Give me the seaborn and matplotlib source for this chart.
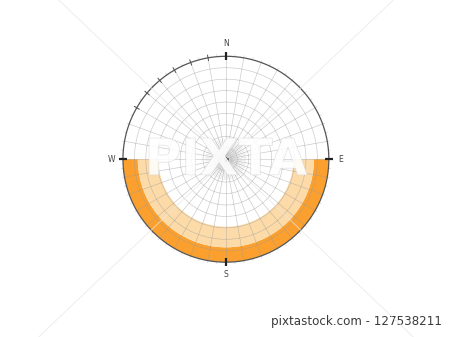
import numpy as np
import matplotlib
matplotlib.use("Agg")
import matplotlib.pyplot as plt
import matplotlib.patheffects as pe
import seaborn as sns

# ---- data ----
compass_labels = ["N", "E", "S", "W"]
compass_az = [0, 90, 180, 270]
shade_az_start = 90          # degrees (E)
shade_az_end = 270           # degrees (W)
band_alt_low = [0, 13]       # altitude lower bound of each band (deg)
band_alt_high = [13, 31]     # altitude upper bound of each band (deg)
band_colors = ["#FBA02E", "#FDDBA9"]
ring_alts = [10, 20, 30, 40, 50, 60, 70, 80]
spoke_az = list(range(0, 360, 10))
inner_spoke_az = list(range(0, 360, 5))
minor_tick_az = [300, 310, 320, 330, 340, 350]
fine_tick_az = list(range(0, 360, 5))
footer = "pixtastock.com - 127538211"

sns.set_theme(style="white")
plt.rcParams["font.family"] = ["DejaVu Sans"]

fig = plt.figure(figsize=(4.5, 3.37), dpi=100)
fig.patch.set_facecolor("white")
ax = fig.add_axes([0.273, 0.222, 0.458, 0.611], projection="polar")
ax.set_theta_zero_location("N")
ax.set_theta_direction(-1)
ax.set_ylim(0, 90)
ax.grid(False)
ax.set_xticks([])
ax.set_yticks([])
ax.spines["polar"].set_visible(False)
ax.set_facecolor("none")

# shaded bands
mid = np.deg2rad((shade_az_start + shade_az_end) / 2)
width = np.deg2rad(shade_az_end - shade_az_start)
for lo, hi, c in zip(band_alt_low, band_alt_high, band_colors):
    ax.bar(mid, hi - lo, width=width, bottom=90 - hi, color=c,
           edgecolor="none", zorder=1)

# grid rings
th = np.linspace(0, 2 * np.pi, 400)
for a in ring_alts:
    ax.plot(th, np.full_like(th, 90 - a), color="#9a9a9a", lw=0.45,
            alpha=0.55, zorder=2)
# spokes
for az in spoke_az:
    t = np.deg2rad(az)
    ax.plot([t, t], [4, 90], color="#9a9a9a", lw=0.45, alpha=0.55, zorder=2)
for az in inner_spoke_az:
    t = np.deg2rad(az)
    ax.plot([t, t], [0, 18], color="#b0b0b0", lw=0.35, alpha=0.5, zorder=2)

# outer circle
ax.plot(th, np.full_like(th, 90), color="#555555", lw=0.9, zorder=4,
        clip_on=False)

# fine ticks outside
for az in fine_tick_az:
    t = np.deg2rad(az)
    ax.plot([t, t], [90, 92], color="#c8c8c8", lw=0.4, zorder=3, clip_on=False)
# minor ticks
for az in minor_tick_az:
    t = np.deg2rad(az)
    ax.plot([t, t], [87.5, 92.5], color="#555555", lw=0.7, zorder=4,
            clip_on=False)
# major ticks and labels
for lab, az in zip(compass_labels, compass_az):
    t = np.deg2rad(az)
    ax.plot([t, t], [86.5, 93.5], color="#222222", lw=1.6, zorder=5,
            clip_on=False, solid_capstyle="butt")
    r = 101 if az in (0, 180) else 100
    ax.text(t, r, lab, ha="center", va="center", fontsize=5.5,
            color="#444444", clip_on=False)

# centre point
ax.plot([0], [0], marker="o", ms=2.2, color="#333333", zorder=6)

# watermark-like diagonal lines
cx, cy = 226 / 450, 1 - 159 / 337
for s in (1, -1):
    xs = np.array([-0.1, 1.1])
    ys = cy + s * (xs - cx) * 0.95 * 450 / 337
    fig.add_artist(plt.Line2D(xs, ys, transform=fig.transFigure,
                              color="#e6e6e6", lw=0.6, zorder=10, alpha=0.8))

# watermark text
fig.text(cx, cy - 0.005, "PIXTA", ha="center", va="center", fontsize=36,
         fontweight="bold", color="white", alpha=0.65, zorder=11,
         path_effects=[pe.withStroke(linewidth=0.7, foreground="#cfcfcf")])

fig.text(0.982, 0.027, footer, ha="right", va="bottom", fontsize=8.6,
         color="#3a3a3a")

fig.savefig("out.png", dpi=100, facecolor="white")
